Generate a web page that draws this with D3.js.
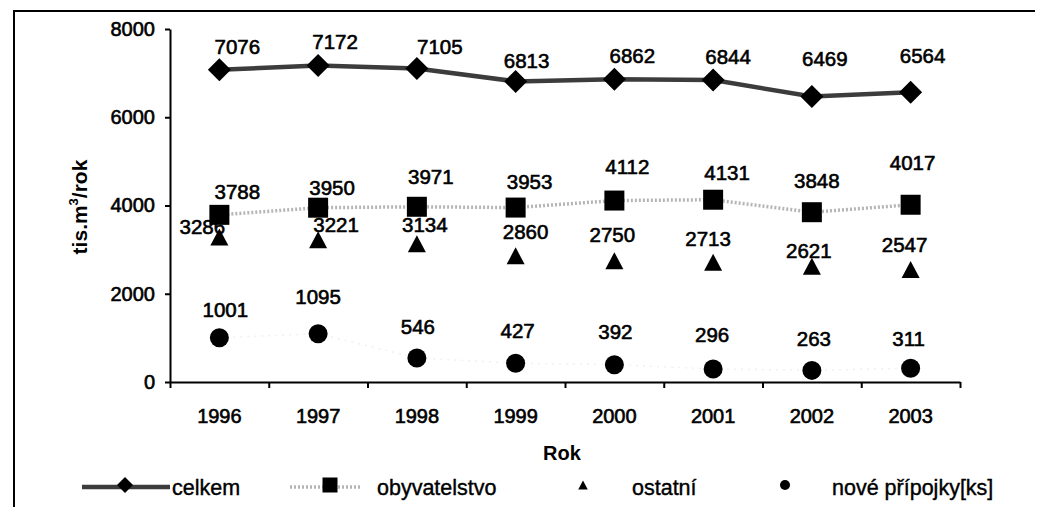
<!DOCTYPE html>
<html>
<head>
<meta charset="utf-8">
<script src="https://cdn.jsdelivr.net/npm/d3@7"></script>
<style>
  body { margin: 0; background: #fff; }
  svg text { font-family: "Liberation Sans", Arial, sans-serif; fill: #000; }
</style>
</head>
<body>
<svg id="chart" width="1045" height="507"></svg>
<script>
// ---- data ----
const years = ["1996", "1997", "1998", "1999", "2000", "2001", "2002", "2003"];
const celkem = [7076, 7172, 7105, 6813, 6862, 6844, 6469, 6564];
const obyvatelstvo = [3788, 3950, 3971, 3953, 4112, 4131, 3848, 4017];
const ostatni = [3286, 3221, 3134, 2860, 2750, 2713, 2621, 2547];
const novePripojky = [1001, 1095, 546, 427, 392, 296, 263, 311];
const yTicks = [0, 2000, 4000, 6000, 8000];
const seriesNames = ["celkem", "obyvatelstvo", "ostatní", "nové přípojky[ks]"];

// ---- layout ----
const W = 1045, H = 507;
const plot = { left: 170, right: 960, top: 29, bottom: 382 };

// hand placement of the value labels, [dx, dy] from each marker
const labelNudge = {
  celkem:       [[18,-23],[17,-24],[23,-22],[11,-21],[18,-24],[15,-23],[13,-38],[12,-37]],
  obyvatelstvo: [[18,-23],[14,-20],[14,-30],[14,-26],[13,-34],[14,-27],[5,-32],[2,-42]],
  ostatni:      [[-17,-10],[18,-15],[8,-19],[10,-24],[-2,-26],[-5,-24],[-3,-16],[-6,-25]],
  nove:         [[6,-28],[0,-37],[1,-31],[2,-33],[1,-33],[-1,-34],[2,-32],[-2,-30]]
};

const svg = d3.select("#chart");
svg.append("rect").attr("width", W).attr("height", H).attr("fill", "#fff");

// outer frame (left and top edges)
svg.append("path")
  .attr("d", "M14,507 L14,11 L1035,11")
  .attr("fill", "none").attr("stroke", "#000").attr("stroke-width", 2);

const x = d3.scaleBand().domain(years).range([plot.left, plot.right]).padding(0);
const xIdx = d3.scaleLinear().domain([0, years.length]).range([plot.left, plot.right]);
const y = d3.scaleLinear().domain([0, 8000]).range([plot.bottom, plot.top]);
const cx = d => x(d) + x.bandwidth() / 2;

// ---- axes ----
const yAxis = svg.append("g")
  .attr("transform", `translate(${plot.left},0)`)
  .call(d3.axisLeft(y).tickValues(yTicks).tickFormat(d3.format("d"))
    .tickSize(5).tickPadding(10).tickSizeOuter(0));
yAxis.selectAll("text").style("font-size", "20px").attr("stroke", "#000").attr("stroke-width", 0.6);

svg.append("g")
  .attr("transform", `translate(0,${plot.bottom})`)
  .call(d3.axisBottom(xIdx).tickValues(d3.range(years.length + 1)).tickSize(6).tickFormat("").tickSizeOuter(0));

const xLabels = svg.append("g")
  .attr("transform", `translate(0,${plot.bottom})`)
  .call(d3.axisBottom(x).tickSize(0).tickPadding(27));
xLabels.select(".domain").remove();
xLabels.selectAll("text").style("font-size", "20px").attr("stroke", "#000").attr("stroke-width", 0.6);

svg.selectAll(".domain, .tick line").attr("stroke", "#000").attr("stroke-width", 2);

// axis titles
svg.append("text")
  .attr("x", 562).attr("y", 460)
  .attr("text-anchor", "middle")
  .style("font-size", "20px").style("font-weight", "bold")
  .text("Rok");

const yTitle = svg.append("text")
  .attr("transform", "translate(87,207) rotate(-90)")
  .attr("text-anchor", "middle")
  .style("font-size", "21px").style("font-weight", "bold");
yTitle.append("tspan").text("tis.m");
yTitle.append("tspan").attr("dy", -9).style("font-size", "13px").text("3");
yTitle.append("tspan").attr("dy", 9).text("/rok");

// ---- marker shapes ----
const sym = {
  diamond: s => `M0,${-s/2} L${s/2},0 L0,${s/2} L${-s/2},0 Z`,
  square: s => `M${-s/2},${-s/2} h${s} v${s} h${-s} Z`,
  triangle: s => `M0,${-s/2} L${s*0.53},${s/2} L${-s*0.53},${s/2} Z`,
  circle: s => d3.symbol(d3.symbolCircle, Math.PI * (s/2) * (s/2))()
};

const series = [
  { key: "nove", name: seriesNames[3], values: novePripojky, shape: "circle", size: 19,
    line: { stroke: "#f0f0f0", width: 1.5, dash: "2,5" }, legendSize: 10, legendLine: false },
  { key: "obyvatelstvo", name: seriesNames[1], values: obyvatelstvo, shape: "square", size: 20,
    line: { stroke: "#b5b5b5", width: 3.5, dash: "2,2" }, legendSize: 15, legendLine: true },
  { key: "celkem", name: seriesNames[0], values: celkem, shape: "diamond", size: 23,
    line: { stroke: "#3c3c3c", width: 4.5, dash: null }, legendSize: 16, legendLine: true },
  { key: "ostatni", name: seriesNames[2], values: ostatni, shape: "triangle", size: 17,
    line: null, legendSize: 9, legendLine: false }
];

const lineGen = d3.line().x((v, i) => cx(years[i])).y(v => y(v));

// connecting lines
series.filter(s => s.line).forEach(s => {
  svg.append("path")
    .datum(s.values)
    .attr("d", lineGen)
    .attr("fill", "none")
    .attr("stroke", s.line.stroke)
    .attr("stroke-width", s.line.width)
    .attr("stroke-dasharray", s.line.dash);
});

// markers
series.forEach(s => {
  svg.append("g").selectAll("path")
    .data(s.values)
    .join("path")
    .attr("transform", (v, i) => `translate(${cx(years[i])},${y(v)})`)
    .attr("d", sym[s.shape](s.size))
    .attr("fill", "#000");
});

// value labels
series.forEach(s => {
  svg.append("g").selectAll("text")
    .data(s.values)
    .join("text")
    .attr("x", (v, i) => cx(years[i]) + labelNudge[s.key][i][0])
    .attr("y", (v, i) => y(v) + labelNudge[s.key][i][1])
    .attr("dy", "0.36em")
    .attr("text-anchor", "middle")
    .style("font-size", "20.5px")
    .attr("stroke", "#000").attr("stroke-width", 0.6)
    .text(v => v);
});

// ---- legend ----
const legendY = 487;
const legendItems = [
  { s: series[2], lineFrom: 82, lineTo: 170, mx: 125, tx: 172 },
  { s: series[1], lineFrom: 290, lineTo: 362, mx: 330, tx: 377 },
  { s: series[3], lineFrom: null, lineTo: null, mx: 583, tx: 632 },
  { s: series[0], lineFrom: null, lineTo: null, mx: 785, tx: 832 }
];
const legend = svg.append("g");
legendItems.forEach(it => {
  if (it.s.legendLine) {
    legend.append("line")
      .attr("x1", it.lineFrom).attr("x2", it.lineTo)
      .attr("y1", legendY).attr("y2", legendY)
      .attr("stroke", it.s.line.stroke)
      .attr("stroke-width", it.s.line.width)
      .attr("stroke-dasharray", it.s.line.dash);
  }
  legend.append("path")
    .attr("transform", `translate(${it.mx},${legendY - 2})`)
    .attr("d", sym[it.s.shape](it.s.legendSize))
    .attr("fill", "#000");
  legend.append("text")
    .attr("x", it.tx).attr("y", legendY + 8)
    .style("font-size", "21.5px")
    .attr("stroke", "#000").attr("stroke-width", 0.4)
    .text(it.s.name);
});
</script>
</body>
</html>
